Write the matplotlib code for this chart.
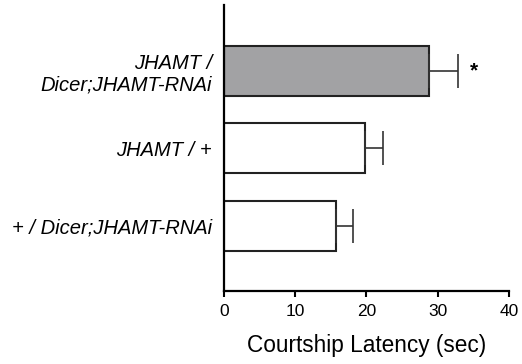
import numpy as np
from matplotlib import pyplot as plt

plt.rcParams['font.family'] = ['Liberation Sans', 'DejaVu Sans']

labels = ['+ / Dicer;JHAMT-RNAi', 'JHAMT / +', 'JHAMT /\nDicer;JHAMT-RNAi']
means = [15.7, 19.8, 28.8]
sems = [2.4, 2.5, 4.1]
colors = ['white', 'white', '#a2a2a4']
star = ['', '', '*']

fig = plt.figure(figsize=(5.22, 3.64), dpi=100)
ax = fig.add_axes([0.429, 0.2005, 0.546, 0.786])

pos = np.arange(len(labels))
ax.barh(pos, means, height=0.645, color=colors, edgecolor='#222222', linewidth=1.5)
ax.errorbar(means, pos, xerr=[np.zeros(len(sems)), sems], fmt='none',
            ecolor='#333333', elinewidth=1.2, capsize=12, capthick=1.2)
for p, m, s, t in zip(pos, means, sems, star):
    if t:
        ax.text(m + s + 1.6, p, t, fontsize=15, fontweight='bold', va='center', ha='left')

ax.set_xlim(0, 40)
ax.set_ylim(-0.84, 2.85)
ax.set_xticks([0, 10, 20, 30, 40])
ax.set_yticks(pos)
ax.set_yticklabels(labels, fontsize=14.5, style='italic', ha='right', linespacing=1.15)
ax.tick_params(axis='y', length=0, pad=8.5)
ax.tick_params(axis='x', labelsize=12.5, width=1.5, length=4, pad=5)
ax.set_xlabel('Courtship Latency (sec)', fontsize=16.3, labelpad=11)
for sp in ['top', 'right']:
    ax.spines[sp].set_visible(False)
for sp in ['left', 'bottom']:
    ax.spines[sp].set_linewidth(1.6)

fig.savefig('out.png', dpi=100)
